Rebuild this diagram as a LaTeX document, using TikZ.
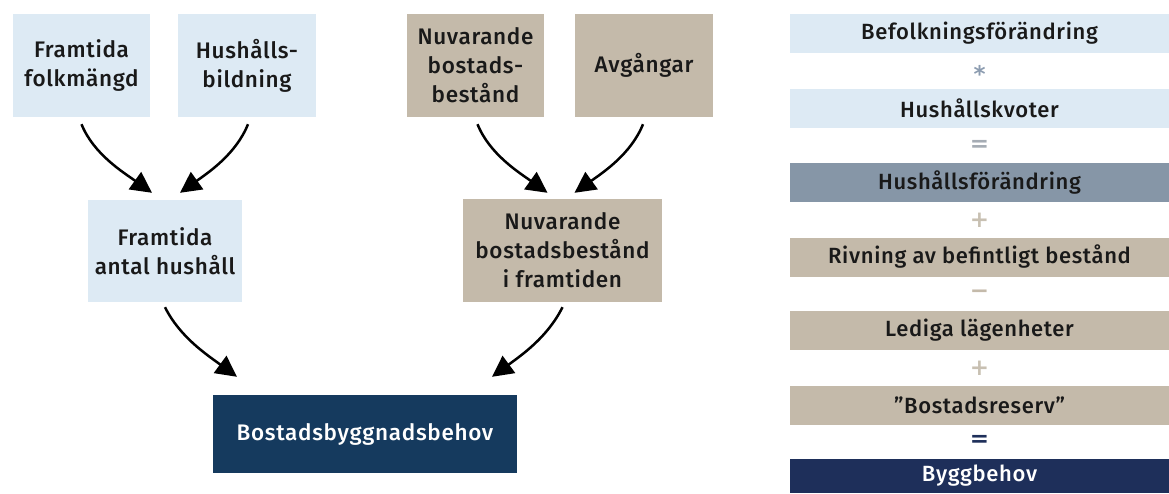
\documentclass[tikz,border=0pt]{standalone}
\usepackage{fontspec}
\setmainfont{Fira Sans Medium}[LetterSpace=3]
\newfontfamily\opboldfont{DejaVu Sans Bold}
\usetikzlibrary{arrows.meta,calc}
\definecolor{lblue}{RGB}{221,234,244}
\definecolor{taupe}{RGB}{196,186,170}
\definecolor{navy}{RGB}{21,58,94}
\definecolor{slate}{RGB}{134,150,167}
\definecolor{dnavy}{RGB}{30,47,90}
\definecolor{txt}{RGB}{25,25,25}
\definecolor{opblue}{RGB}{140,156,176}
\definecolor{opgray}{RGB}{165,172,180}
\definecolor{opbeige}{RGB}{200,192,178}
\tikzset{
  box/.style={inner sep=0pt, align=center, text=txt, font=\fontsize{22.5}{29}\selectfont},
  lbox/.style={box, fill=lblue},
  tbox/.style={box, fill=taupe},
  row/.style={inner sep=0pt, minimum width=379pt, minimum height=39pt, text=txt, font=\fontsize{22}{29}\selectfont},
  op/.style={inner sep=0pt, font=\opboldfont\fontsize{23}{28}\selectfont},
  arr/.style={line width=2.5pt, -{Triangle[length=21pt,width=21pt]}},
}
\begin{document}
\begin{tikzpicture}[x=1pt,y=-1pt]
\useasboundingbox (0,0) rectangle (1169,493);
% left tree
\node[lbox, minimum width=137pt, minimum height=103pt] (ff) at (81.5,65.5) {Framtida\\folkmängd};
\node[lbox, minimum width=138pt, minimum height=103pt] (hb) at (247,65.5) {Hushålls-\\bildning};
\node[lbox, minimum width=154pt, minimum height=102pt] (fah) at (165,251) {Framtida\\antal hushåll};
\node[tbox, minimum width=137pt, minimum height=103pt] (nb) at (475.5,65.5) {Nuvarande\\bostads-\\bestånd};
\node[tbox, minimum width=138pt, minimum height=103pt] (av) at (644,65.5) {Avgångar};
\node[tbox, minimum width=199pt, minimum height=103pt] (nbf) at (562.5,250.5) {Nuvarande\\bostadsbestånd\\i framtiden};
\node[box, fill=navy, text=white, minimum width=304pt, minimum height=78pt] (bb) at (365,434) {Bostadsbyggnadsbehov};
\draw[arr] ($(ff.south)+(0,7)$) .. controls +(12,30) and +(-28,-20) .. ($(fah.north)+(-13,-7)$);
\draw[arr] ($(hb.south)+(1,7)$) .. controls +(-12,30) and +(28,-20) .. ($(fah.north)+(15,-7)$);
\draw[arr] ($(nb.south)+(2,7)$) .. controls +(12,30) and +(-28,-20) .. ($(nbf.north)+(-15,-6)$);
\draw[arr] ($(av.south)+(-1,7)$) .. controls +(-12,30) and +(28,-20) .. ($(nbf.north)+(12,-6)$);
\draw[arr] ($(fah.south)+(0,5)$) .. controls +(15,30) and +(-30,-22) .. ($(bb.north)+(-128,-18)$);
\draw[arr] ($(nbf.south)+(0,5)$) .. controls +(-15,30) and +(30,-22) .. ($(bb.north)+(127,-18)$);
% right column
\node[row, fill=lblue] (r1) at (979.5,33.5) {Befolkningsförändring};
\node[op, text=opblue] (o1) at (979.5,74) {*};
\node[row, fill=lblue] (r2) at (979.5,108.5) {Hushållskvoter};
\node[op, text=opgray] (o2) at (979.5,146) {=};
\node[row, fill=slate] (r3) at (979.5,182.5) {Hushållsförändring};
\node[op, text=opbeige] (o3) at (979.5,220) {+};
\node[row, fill=taupe] (r4) at (979.5,257) {Rivning av befintligt bestånd};
\node[op, text=taupe] (o4) at (979.5,294) {−};
\node[row, fill=taupe] (r5) at (979.5,330.5) {Lediga lägenheter};
\node[op, text=opbeige] (o5) at (979.5,368) {+};
\node[row, fill=taupe] (r6) at (979.5,405) {”Bostadsreserv”};
\node[op, text=dnavy] (o6) at (979.5,441) {=};
\node[row, fill=dnavy, text=white, minimum height=34pt] (r7) at (979.5,476) {Byggbehov};
\end{tikzpicture}
\end{document}
